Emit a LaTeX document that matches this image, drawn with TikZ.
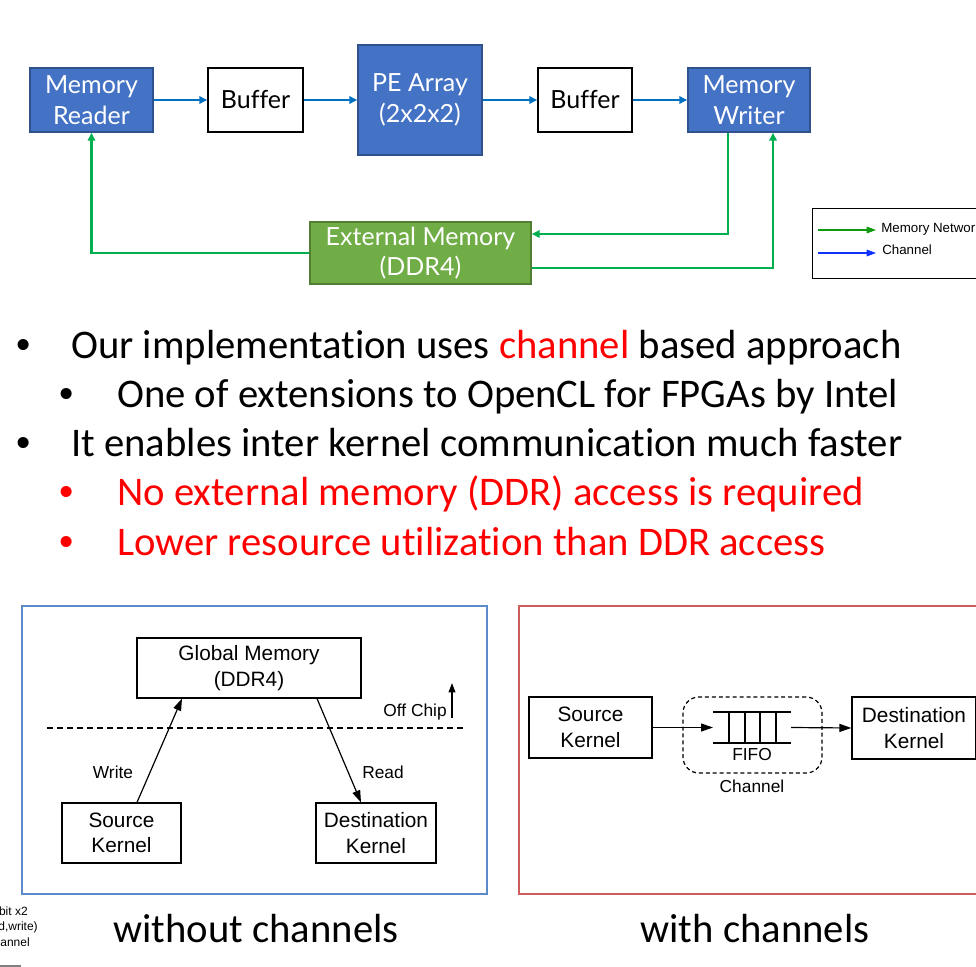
\documentclass[tikz,border=0pt]{standalone}
\usepackage{fontspec}
\setmainfont{Carlito}[Ligatures=NoCommon]
\newfontfamily\hvfont{Liberation Sans}
\newfontfamily\topfont{Lato}[Ligatures=NoCommon]
\usetikzlibrary{arrows.meta,calc}
\definecolor{boxblue}{HTML}{4472C4}
\definecolor{boxblueline}{HTML}{2F528F}
\definecolor{boxgreen}{HTML}{70AD47}
\definecolor{boxgreenline}{HTML}{507E32}
\definecolor{memgreen}{HTML}{00B050}
\definecolor{chanblue}{HTML}{0070C0}
\definecolor{legendgreen}{HTML}{109A10}
\definecolor{legendblue}{HTML}{1030FF}
\definecolor{panelblue}{HTML}{5B8BCB}
\definecolor{panelred}{HTML}{CD5C5C}
\definecolor{slidered}{HTML}{FF0000}
\tikzset{
  topbox/.style={draw=black, line width=1pt, fill=white, align=center, inner sep=0pt,
    font=\topfont\fontsize{18.75}{23}\selectfont},
  bluebox/.style={topbox, draw=boxblueline, fill=boxblue, text=white},
  greenbox/.style={topbox, draw=boxgreenline, fill=boxgreen, text=white},
  chanarrow/.style={draw=chanblue, line width=1.6pt, -{Triangle[length=6pt,width=5.5pt]}},
  memarrow/.style={draw=memgreen, line width=1.8pt, -{Triangle[length=6pt,width=5.5pt]}},
  kbox/.style={draw=black, line width=0.9pt, fill=white, align=center, inner sep=0pt,
    font=\hvfont\fontsize{15.6}{19}\selectfont},
  karrow/.style={draw=black, line width=0.9pt, -{Triangle[length=9pt,width=6pt]}},
  klabel/.style={font=\hvfont\fontsize{13}{15}\selectfont, inner sep=0pt},
  bullettext/.style={anchor=base west, inner sep=0pt, font=\fontsize{30.5}{36}\selectfont},
  bulletdot/.style={anchor=base, inner sep=0pt, font=\hvfont\fontsize{30.5}{36}\selectfont},
  caption/.style={anchor=base, inner sep=0pt, font=\fontsize{30.5}{36}\selectfont},
  legendtext/.style={anchor=west, inner sep=0pt, font=\hvfont\fontsize{10}{12}\selectfont},
  sidetext/.style={anchor=base east, inner sep=0pt, font=\hvfont\fontsize{9}{10}\selectfont},
}
\begin{document}
\begin{tikzpicture}[x=0.75pt,y=-0.75pt]
\useasboundingbox (0,0) rectangle (976,967);
\clip (0,0) rectangle (976,967);

% ---------- data path ----------
\node[bluebox, minimum width=123*0.75pt, minimum height=64*0.75pt] (reader) at (91.5,100) {Memory\\Reader};
\node[topbox, minimum width=95*0.75pt, minimum height=64*0.75pt] (buf1) at (255.5,100) {Buffer};
\node[bluebox, minimum width=124*0.75pt, minimum height=110*0.75pt] (pe) at (420,100) {PE Array\\(2x2x2)};
\node[topbox, minimum width=94*0.75pt, minimum height=64*0.75pt] (buf2) at (585,100) {Buffer};
\node[bluebox, minimum width=122*0.75pt, minimum height=64*0.75pt] (writer) at (749,100) {Memory\\Writer};
\node[greenbox, minimum width=221*0.75pt, minimum height=62*0.75pt] (ext) at (420.5,253) {External Memory\\(DDR4)};

\draw[chanarrow] (reader) -- (buf1);
\draw[chanarrow] (buf1) -- (pe);
\draw[chanarrow] (pe) -- (buf2);
\draw[chanarrow] (buf2) -- (writer);

\draw[memarrow] (ext.west) -| (reader.south);
\coordinate (wout) at ($(writer.south)+(-21,0)$);
\coordinate (win) at ($(writer.south)+(24,0)$);
\coordinate (extin) at ($(ext.east)+(0,-19)$);
\coordinate (extout) at ($(ext.east)+(0,15)$);
\draw[memarrow] (wout) |- (extin);
\draw[memarrow] (extout) -| (win);

% legend
\node[draw=black, line width=0.8pt, minimum width=190*0.75pt, minimum height=70*0.75pt, anchor=north west, inner sep=0pt] (legend) at (812,208) {};
\coordinate (lg1) at (818,230);
\coordinate (lg2) at (876,230);
\coordinate (lb1) at (818,253);
\coordinate (lb2) at (876,253);
\draw[draw=legendgreen, line width=0.8pt, -{Triangle[length=7pt,width=5pt]}] (lg1) -- (lg2);
\draw[draw=legendblue, line width=0.8pt, -{Triangle[length=7pt,width=5pt]}] (lb1) -- (lb2);
\node[legendtext] (lgt) at (881,229) {Memory Network};
\node[legendtext] (lbt) at (882,250) {Channel};

% ---------- bullets ----------
\node[bulletdot] (d1) at (24,358) {•};
\node[bullettext] (t1) at (71,358) {Our implementation uses \textcolor{slidered}{channel} based approach};
\node[bulletdot] (d2) at (67,407) {•};
\node[bullettext] (t2) at (117,407) {One of extensions to OpenCL for FPGAs by Intel};
\node[bulletdot] (d3) at (24,456) {•};
\node[bullettext] (t3) at (71,456) {It enables inter kernel communication much faster};
\node[bulletdot, text=slidered] (d4) at (67,505) {•};
\node[bullettext, text=slidered] (t4) at (117,505) {No external memory (DDR) access is required};
\node[bulletdot, text=slidered] (d5) at (67,555) {•};
\node[bullettext, text=slidered] (t5) at (117,555) {Lower resource utilization than DDR access};

% ---------- without channels ----------
\draw[draw=panelblue, line width=1.6pt] (22,606) rectangle (487,894);
\node[kbox, minimum width=224*0.75pt, minimum height=60*0.75pt] (gm) at (249,668) {Global Memory\\(DDR4)};
\node[kbox, minimum width=119*0.75pt, minimum height=60*0.75pt] (src) at (121.5,833) {Source\\Kernel};
\node[kbox, minimum width=120*0.75pt, minimum height=60*0.75pt] (dst) at (376,833) {Destination\\Kernel};
\coordinate (dl) at (47,728);
\coordinate (dr) at (463,728);
\draw[line width=0.9pt, dash pattern=on 4.5pt off 3pt] (dl) -- (dr);
\draw[karrow] ($(src.north)+(15.5,0)$) -- ($(gm.south)+(-67,0)$);
\draw[karrow] ($(gm.south)+(68,0)$) -- ($(dst.north)+(-15,0)$);
\node[klabel] (wl) at (113,772) {Write};
\node[klabel] (rl) at (383,772) {Read};
\node[klabel, anchor=base east] (offchip) at (447,716) {Off Chip};
\coordinate (oc1) at (452,718);
\coordinate (oc2) at (452,683);
\draw[line width=1.2pt, -{Triangle[length=7pt,width=5pt]}] (oc1) -- (oc2);
\node[caption] (cap1) at (256,942) {without channels};

% fragments at the left edge
\node[sidetext] (s1) at (28,915) {bit x2};
\node[sidetext] (s2) at (38,930) {d,write)};
\node[sidetext] (s3) at (30,946) {annel};
\draw[draw=gray, line width=1.2pt] (-5,966) -- (20,966) -- (20,975);

% ---------- with channels ----------
\draw[draw=panelred, line width=1.6pt] (519,606) rectangle (990,894);
\node[kbox, minimum width=123*0.75pt, minimum height=61*0.75pt] (src2) at (590.5,727.5) {Source\\Kernel};
\node[kbox, minimum width=124*0.75pt, minimum height=62*0.75pt] (dst2) at (914,728) {Destination\\Kernel};
\node[draw=black, line width=0.9pt, dash pattern=on 3pt off 2.2pt, rounded corners=12pt,
  minimum width=139*0.75pt, minimum height=76*0.75pt, inner sep=0pt] (chan) at (752.5,735) {};
\coordinate (fifol) at (713,727.5);
\coordinate (fifor) at (791,727.5);
\draw[line width=1.1pt] (713,712) -- (791,712) (713,743) -- (791,743);
\foreach \xx in {729,745,760,776} \draw[line width=1.1pt] (\xx,712) -- (\xx,743);
\node[klabel] (fifo) at (752,755) {FIFO};
\node[klabel] (chl) at (752,786) {Channel};
\draw[karrow] (src2.east) -- (fifol);
\draw[karrow] (fifor) -- (dst2.west);
\node[caption] (cap2) at (755,942) {with channels};
\end{tikzpicture}
\end{document}
